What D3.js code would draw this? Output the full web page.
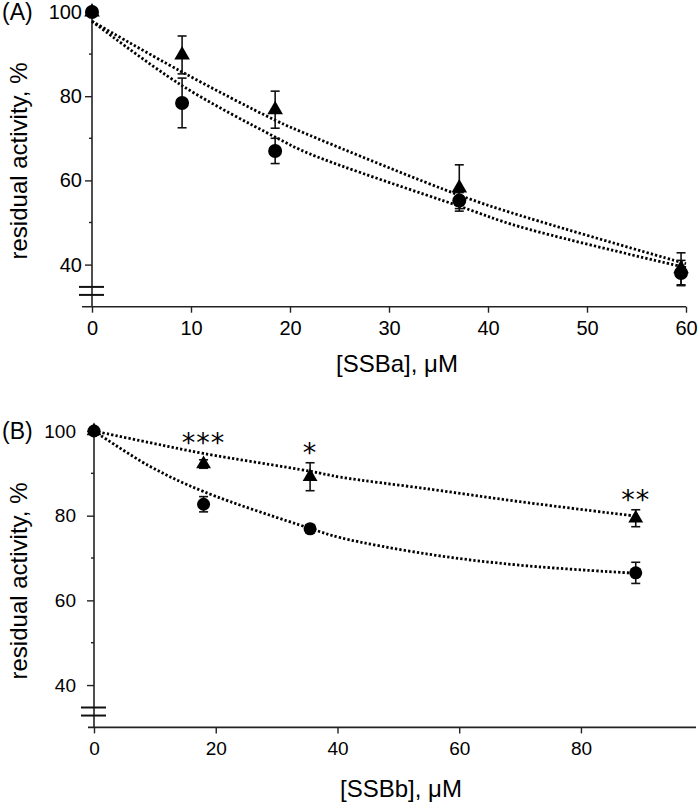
<!DOCTYPE html>
<html><head><meta charset="utf-8">
<script src="https://cdn.jsdelivr.net/npm/d3@7"></script>
<style>
body{margin:0;background:#fff;}
svg{display:block;font-family:"Liberation Sans",Arial,sans-serif;}
</style></head>
<body>
<script>
// ---------- Data ----------
const panelA_x = [0, 9.1, 18.5, 37.1, 59.5];
const panelA_circle = [100, 78.4, 67.0, 55.2, 38.0];
const panelA_circleErr = [0, 5.9, 3.0, 1.9, 3.0];
const panelA_triangle = [100, 89.8, 76.8, 58.2, 39.0];
const panelA_triangleErr = [0, 4.5, 4.4, 5.5, 3.8];
const fitA_x = [0, 8.9, 18.5, 22, 37.2, 43.2, 60];
const fitA_triangle = [97.8, 86.0, 74.3, 70.7, 56.4, 51.7, 40.2];
const fitA_circle = [97.8, 82.8, 70.3, 66.3, 53.8, 49.0, 39.3];

const panelB_x = [0, 18, 35.5, 89];
const panelB_circle = [100, 82.7, 76.9, 66.5];
const panelB_circleErr = [0, 1.8, 1.0, 2.5];
const panelB_triangle = [100, 92.2, 89.2, 79.4];
const panelB_triangleErr = [0, 1.0, 3.3, 2.0];
const panelB_stars = ["***", "*", "**"];
const panelB_starX = [18, 35.5, 89];
const panelB_starY = [98.3, 96.0, 85.0];
const fitB_x = [0, 9, 18, 35.5, 40.5, 55, 70, 89];
const fitB_triangle = [100, 97.3, 94.7, 90.5, 89.1, 86.3, 83.3, 79.9];
const fitB_circle = [100, 91.8, 85.7, 77.0, 74.8, 70.9, 68.3, 66.4];

const yTicks = [40, 60, 80, 100];
const yMinorTicks = [50, 70, 90];
const xTicksA = [0, 10, 20, 30, 40, 50, 60];
const xTicksB = [0, 20, 40, 60, 80];
const yLabel = "residual activity, %";
const xLabelA = "[SSBa], μM";
const xLabelB = "[SSBb], μM";

// ---------- Drawing ----------
const W = 700, H = 805;
const svg = d3.select("body").append("svg").attr("width", W).attr("height", H);

function panel(cfg) {
  const g = svg.append("g");
  const x = d3.scaleLinear().domain(cfg.xDomain).range(cfg.xRange);
  const y = d3.scaleLinear().domain([30, 100]).range(cfg.yRange);
  const y0 = cfg.yRange[0];

  // x axis
  const xa = g.append("g").attr("transform", `translate(0,${y0})`)
    .call(d3.axisBottom(x).tickValues(cfg.xTicks).tickSize(6).tickPadding(cfg.xPad).tickSizeOuter(0));
  xa.select(".domain").remove();
  xa.append("line").attr("x1", cfg.xLineStart).attr("x2", cfg.xRange[1]).attr("stroke", "#222").attr("stroke-width", 1.6);
  xa.selectAll(".tick line").attr("stroke", "#222").attr("stroke-width", 1.4);
  xa.selectAll(".tick text").attr("fill", "#000").style("font-size", cfg.tickFont);

  // y axis
  const ya = g.append("g").attr("transform", `translate(${x(0)},0)`)
    .call(d3.axisLeft(y).tickValues(yTicks).tickSize(7).tickPadding(cfg.yPad).tickSizeOuter(0));
  ya.select(".domain").remove();
  ya.append("line").attr("y1", y(30)).attr("y2", y(100)).attr("stroke", "#222").attr("stroke-width", 1.6);
  ya.selectAll(".tick line").attr("stroke", "#222").attr("stroke-width", 1.4);
  ya.selectAll(".tick text").attr("fill", "#000").style("font-size", cfg.tickFont);
  ya.selectAll(".minor").data(yMinorTicks).enter().append("line")
    .attr("x1", -3).attr("x2", 0).attr("y1", d => y(d)).attr("y2", d => y(d))
    .attr("stroke", "#222").attr("stroke-width", 1.4);
  // axis break marks
  [34.7, 32.8].forEach(v => {
    ya.append("line").attr("x1", -13).attr("x2", 12).attr("y1", y(v)).attr("y2", y(v))
      .attr("stroke", "#111").attr("stroke-width", 2);
  });

  // fit lines
  const line = d3.line().x(d => x(d[0])).y(d => y(d[1])).curve(d3.curveCatmullRom.alpha(0.5));
  [cfg.fitT, cfg.fitC].forEach(arr => {
    g.append("path").datum(cfg.fitX.map((v, i) => [v, arr[i]]))
      .attr("d", line).attr("fill", "none").attr("stroke", "#000")
      .attr("stroke-width", 2.8).attr("stroke-dasharray", "2.3,2.1");
  });

  // error bars
  function errs(vals, err) {
    cfg.px.forEach((xv, i) => {
      if (!err[i]) return;
      const cx = x(xv), t = y(vals[i] + err[i]), b = y(vals[i] - err[i]);
      g.append("line").attr("x1", cx).attr("x2", cx).attr("y1", t).attr("y2", b).attr("stroke", "#111").attr("stroke-width", 1.6);
      [t, b].forEach(yy => g.append("line").attr("x1", cx - 4.5).attr("x2", cx + 4.5).attr("y1", yy).attr("y2", yy).attr("stroke", "#111").attr("stroke-width", 1.6));
    });
  }
  errs(cfg.tri, cfg.triErr);
  errs(cfg.cir, cfg.cirErr);

  // markers
  const tri = d3.symbol(d3.symbolTriangle, cfg.triSize);
  cfg.px.forEach((xv, i) => {
    g.append("path").attr("d", tri).attr("transform", `translate(${x(xv)},${y(cfg.tri[i])})`).attr("fill", "#000");
  });
  cfg.px.forEach((xv, i) => {
    g.append("circle").attr("cx", x(xv)).attr("cy", y(cfg.cir[i])).attr("r", cfg.r).attr("fill", "#000");
  });

  // labels
  g.append("text").attr("x", 2).attr("y", y(100)).attr("dy", "0.36em").style("font-size", "23px").text(cfg.letter);
  g.append("text").attr("transform", `translate(${cfg.yLabelX},${cfg.yLabelY}) rotate(-90)`)
    .attr("text-anchor", "middle").attr("dy", "0.36em").style("font-size", "24px").text(yLabel);
  g.append("text").attr("x", cfg.xLabelX).attr("y", cfg.xLabelY).attr("text-anchor", "middle")
    .attr("dy", "0.36em").style("font-size", "24px").text(cfg.xLabel);

  if (cfg.stars) {
    cfg.stars.forEach((s, i) => {
      g.append("text").attr("x", x(cfg.starX[i])).attr("y", y(cfg.starY[i]) + 14)
        .attr("text-anchor", "middle").style("font-family", "'DejaVu Sans', sans-serif")
        .style("font-size", "27px").style("letter-spacing", "1px").text(s);
    });
  }
  return {x, y};
}

panel({
  letter: "(A)", xDomain: [0, 60], xRange: [92, 686], yRange: [306.7, 12],
  xTicks: xTicksA, xPad: 8, yPad: 3, xLineStart: 82, tickFont: "20px",
  px: panelA_x, cir: panelA_circle, cirErr: panelA_circleErr,
  tri: panelA_triangle, triErr: panelA_triangleErr,
  fitX: fitA_x, fitT: fitA_triangle, fitC: fitA_circle,
  r: 7, triSize: 105,
  yLabelX: 18, yLabelY: 161, xLabelX: 397, xLabelY: 363, xLabel: xLabelA
});

panel({
  letter: "(B)", xDomain: [0, 98.9], xRange: [94, 696], yRange: [727.4, 431],
  xTicks: xTicksB, xPad: 8, yPad: 11, xLineStart: 88, tickFont: "19px",
  px: panelB_x, cir: panelB_circle, cirErr: panelB_circleErr,
  tri: panelB_triangle, triErr: panelB_triangleErr,
  fitX: fitB_x, fitT: fitB_triangle, fitC: fitB_circle,
  r: 6.5, triSize: 95,
  yLabelX: 18, yLabelY: 581, xLabelX: 401, xLabelY: 788, xLabel: xLabelB,
  stars: panelB_stars, starX: panelB_starX, starY: panelB_starY
});
</script>
</body></html>
